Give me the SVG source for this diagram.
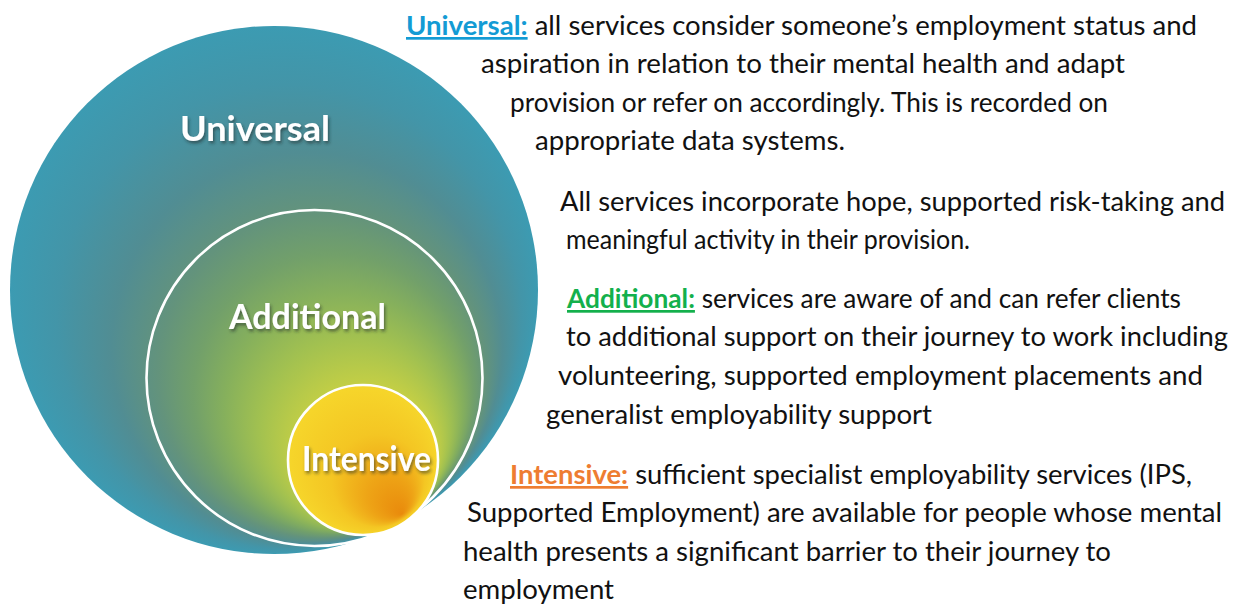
<svg xmlns="http://www.w3.org/2000/svg" width="1238" height="606" viewBox="0 0 1238 606">
  <style>
    .ring { fill: none; stroke: #ffffff; stroke-width: 2.6; }
    .label { font-family: Lato, "Open Sans", sans-serif; font-weight: 700; font-size: 34px; fill: #ffffff; filter: url(#shadow); }
    .body { font-family: Lato, "Open Sans", "Liberation Sans", sans-serif; font-size: 27px; fill: #111111; }
    .head { font-weight: 700; text-decoration: underline; }
    .blue { fill: #139bd4; }
    .green { fill: #13b04c; }
    .orange { fill: #ee7d31; }
  </style>
  <defs>
    <!-- teal rim fading through green and yellow toward a warm spot low on the right -->
    <radialGradient id="outerFill" gradientUnits="userSpaceOnUse" cx="274" cy="290" r="264" fx="400" fy="512">
      <stop offset="0" stop-color="#ec9412"/>
      <stop offset="0.1" stop-color="#f2c524"/>
      <stop offset="0.18" stop-color="#e6d634"/>
      <stop offset="0.26" stop-color="#c4cf45"/>
      <stop offset="0.36" stop-color="#a2c150"/>
      <stop offset="0.45" stop-color="#86b05c"/>
      <stop offset="0.53" stop-color="#72a06a"/>
      <stop offset="0.62" stop-color="#63937c"/>
      <stop offset="0.74" stop-color="#518d93"/>
      <stop offset="0.88" stop-color="#4395a8"/>
      <stop offset="1" stop-color="#3c9bb2"/>
    </radialGradient>
    <radialGradient id="coreFill" gradientUnits="userSpaceOnUse" cx="363" cy="460" r="75" fx="402" fy="514">
      <stop offset="0" stop-color="#e98a0c"/>
      <stop offset="0.3" stop-color="#eea416"/>
      <stop offset="0.62" stop-color="#f4c623"/>
      <stop offset="1" stop-color="#f6d62b"/>
    </radialGradient>
    <filter id="shadow" x="-10%" y="-20%" width="130%" height="160%">
      <feDropShadow dx="1.5" dy="2.5" stdDeviation="1.6" flood-color="#1b2b2b" flood-opacity="0.55"/>
    </filter>
  </defs>

  <rect width="1238" height="606" fill="#ffffff"/>

  <!-- nested circles -->
  <g id="universal">
    <circle cx="274" cy="290" r="264" fill="url(#outerFill)"/>
    <text class="label" x="180" y="141" textLength="150" lengthAdjust="spacingAndGlyphs">Universal</text>
  </g>
  <g id="additional">
    <circle class="ring" cx="314.5" cy="378" r="168"/>
    <text class="label" x="229" y="329" textLength="157" lengthAdjust="spacingAndGlyphs">Additional</text>
  </g>
  <g id="intensive">
    <circle cx="363" cy="460" r="75" fill="url(#coreFill)"/>
    <circle class="ring" cx="363" cy="460" r="75"/>
    <text class="label" x="302" y="471" textLength="129" lengthAdjust="spacingAndGlyphs">Intensive</text>
  </g>

  <!-- descriptions -->
  <g id="universal-text" class="body">
    <text x="406" y="35" textLength="791" lengthAdjust="spacingAndGlyphs"><tspan class="head blue">Universal:</tspan> all services consider someone’s employment status and</text>
    <text x="481" y="73" textLength="644" lengthAdjust="spacingAndGlyphs">aspiration in relation to their mental health and adapt</text>
    <text x="510" y="112" textLength="598" lengthAdjust="spacingAndGlyphs">provision or refer on accordingly. This is recorded on</text>
    <text x="535" y="150" textLength="310" lengthAdjust="spacingAndGlyphs">appropriate data systems.</text>
    <text x="560" y="211" textLength="665" lengthAdjust="spacingAndGlyphs">All services incorporate hope, supported risk-taking and</text>
    <text x="566" y="249" textLength="404" lengthAdjust="spacingAndGlyphs">meaningful activity in their provision.</text>
  </g>
  <g id="additional-text" class="body">
    <text x="567" y="308" textLength="614" lengthAdjust="spacingAndGlyphs"><tspan class="head green">Additional:</tspan> services are aware of and can refer clients</text>
    <text x="566" y="346" textLength="662" lengthAdjust="spacingAndGlyphs">to additional support on their journey to work including</text>
    <text x="558" y="385" textLength="645" lengthAdjust="spacingAndGlyphs">volunteering, supported employment placements and</text>
    <text x="546" y="424" textLength="386" lengthAdjust="spacingAndGlyphs">generalist employability support</text>
  </g>
  <g id="intensive-text" class="body">
    <text x="510" y="484" textLength="682" lengthAdjust="spacingAndGlyphs"><tspan class="head orange">Intensive:</tspan> sufficient specialist employability services (IPS,</text>
    <text x="467" y="522" textLength="755" lengthAdjust="spacingAndGlyphs">Supported Employment) are available for people whose mental</text>
    <text x="463" y="561" textLength="648" lengthAdjust="spacingAndGlyphs">health presents a significant barrier to their journey to</text>
    <text x="463" y="599" textLength="151" lengthAdjust="spacingAndGlyphs">employment</text>
  </g>
</svg>
